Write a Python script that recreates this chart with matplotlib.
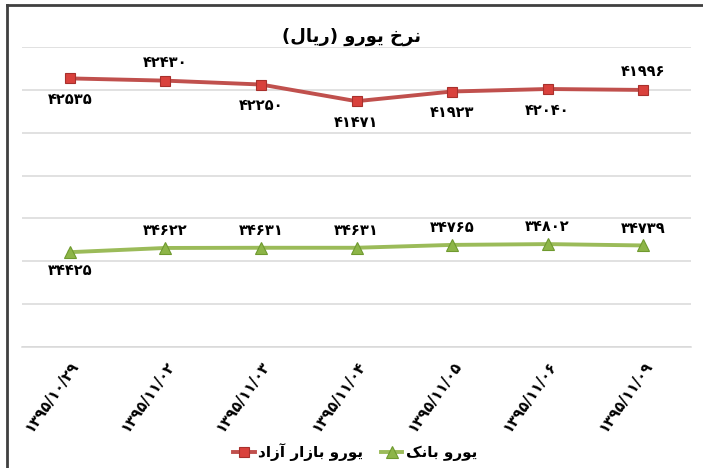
import matplotlib
matplotlib.use("Agg")
import matplotlib.pyplot as plt
from matplotlib.lines import Line2D

# ---------------- data ----------------
categories = ["۱۳۹۵/۱۰/۲۹", "۱۳۹۵/۱۱/۰۲", "۱۳۹۵/۱۱/۰۳", "۱۳۹۵/۱۱/۰۴",
              "۱۳۹۵/۱۱/۰۵", "۱۳۹۵/۱۱/۰۶", "۱۳۹۵/۱۱/۰۹"]
free_market = [42535, 42430, 42250, 41471, 41923, 42040, 41996]
bank = [34425, 34622, 34631, 34631, 34765, 34802, 34739]
series_names = ["یورو بازار آزاد", "یورو بانک"]
title_text = "نرخ یورو (ریال)"

# label placement (style only): True = above point
free_above = [False, True, False, False, False, False, True]
bank_above = [False, True, True, True, True, True, True]

# ---------------- simple Arabic/Persian shaping ----------------
FORMS = {
    '\u0627': ('\uFE8D', '\uFE8E', None, None),
    '\u0622': ('\uFE81', '\uFE82', None, None),
    '\u0628': ('\uFE8F', '\uFE90', '\uFE91', '\uFE92'),
    '\u062E': ('\uFEA5', '\uFEA6', '\uFEA7', '\uFEA8'),
    '\u062F': ('\uFEA9', '\uFEAA', None, None),
    '\u0631': ('\uFEAD', '\uFEAE', None, None),
    '\u0632': ('\uFEAF', '\uFEB0', None, None),
    '\u0644': ('\uFEDD', '\uFEDE', '\uFEDF', '\uFEE0'),
    '\u0646': ('\uFEE5', '\uFEE6', '\uFEE7', '\uFEE8'),
    '\u0648': ('\uFEED', '\uFEEE', None, None),
    '\u06CC': ('\uFBFC', '\uFBFD', '\uFBFE', '\uFBFF'),
    '\u06A9': ('\uFB8E', '\uFB8F', '\uFB90', '\uFB91'),
}


def dual(c):
    return c in FORMS and FORMS[c][2] is not None


def shape(s):
    out = []
    n = len(s)
    for i, c in enumerate(s):
        if c not in FORMS:
            out.append(c)
            continue
        prev = s[i - 1] if i > 0 else ''
        nxt = s[i + 1] if i + 1 < n else ''
        jp = dual(prev)
        jn = dual(c) and nxt in FORMS
        iso, fin, ini, med = FORMS[c]
        if jp and jn:
            out.append(med)
        elif jp:
            out.append(fin)
        elif jn:
            out.append(ini)
        else:
            out.append(iso)
    vis = ''.join(reversed(out))
    vis = vis.translate(str.maketrans({'(': ')', ')': '('}))
    return vis


def fa_digits(v):
    return str(v).translate(str.maketrans("0123456789", "۰۱۲۳۴۵۶۷۸۹"))


# ---------------- figure ----------------
plt.rcParams['font.family'] = ['DejaVu Sans']
fig = plt.figure(figsize=(7.03, 4.68), dpi=100)
ax = fig.add_axes([22 / 703, 1 - 347 / 468, (691 - 22) / 703, (347 - 47) / 468])

x = list(range(len(categories)))
red = '#C0504D'
green = '#9BBB59'
ax.plot(x, free_market, color=red, lw=2.8, marker='s', ms=7,
        mfc='#D9413C', mec='#A8302C', mew=0.8, zorder=3, label=shape(series_names[0]))
ax.plot(x, bank, color=green, lw=2.8, marker='^', ms=8,
        mfc='#8DB548', mec='#6F9A2F', mew=0.8, zorder=3, label=shape(series_names[1]))

for xi, v, up in zip(x, free_market, free_above):
    ax.annotate(fa_digits(v), (xi, v), xytext=(0, 8 if up else -10),
                textcoords='offset points', ha='center',
                va='bottom' if up else 'top', fontsize=10.5, fontweight='bold')
for xi, v, up in zip(x, bank, bank_above):
    ax.annotate(fa_digits(v), (xi, v), xytext=(0, 7 if up else -8),
                textcoords='offset points', ha='center',
                va='bottom' if up else 'top', fontsize=10.5, fontweight='bold')

ax.set_xlim(-0.5, len(categories) - 0.5)
ax.set_ylim(30000, 44000)
ax.set_yticks(range(30000, 44001, 2000))
ax.set_yticklabels([])
ax.tick_params(axis='y', length=0)
ax.grid(axis='y', color='#D9D9D9', lw=1.1)
ax.set_axisbelow(True)
for sp in ['top', 'right', 'left']:
    ax.spines[sp].set_visible(False)
ax.spines['bottom'].set_color('#D9D9D9')
ax.spines['bottom'].set_linewidth(1.1)

ax.set_xticks(x)
ax.set_xticklabels(categories, rotation=55, ha='right', va='top',
                   rotation_mode='anchor', fontsize=10.5, fontweight='bold')
ax.tick_params(axis='x', length=0, pad=8)

fig.text(0.5, 1 - 37 / 468, shape(title_text), ha='center', va='center',
         fontsize=13, fontweight='bold')

leg = fig.legend(loc='center', bbox_to_anchor=(0.505, 1 - 452 / 468), ncol=2,
                 frameon=False, prop={'weight': 'bold', 'size': 11},
                 handlelength=1.4, handletextpad=0.2, columnspacing=1.2)

# outer frame (top and left edges)
fig.add_artist(Line2D([7 / 703, 1], [1 - 5 / 468, 1 - 5 / 468], transform=fig.transFigure,
                      color='#404040', lw=2))
fig.add_artist(Line2D([7 / 703, 7 / 703], [0, 1 - 5 / 468], transform=fig.transFigure,
                      color='#404040', lw=2))

fig.savefig('out.png', dpi=100)
